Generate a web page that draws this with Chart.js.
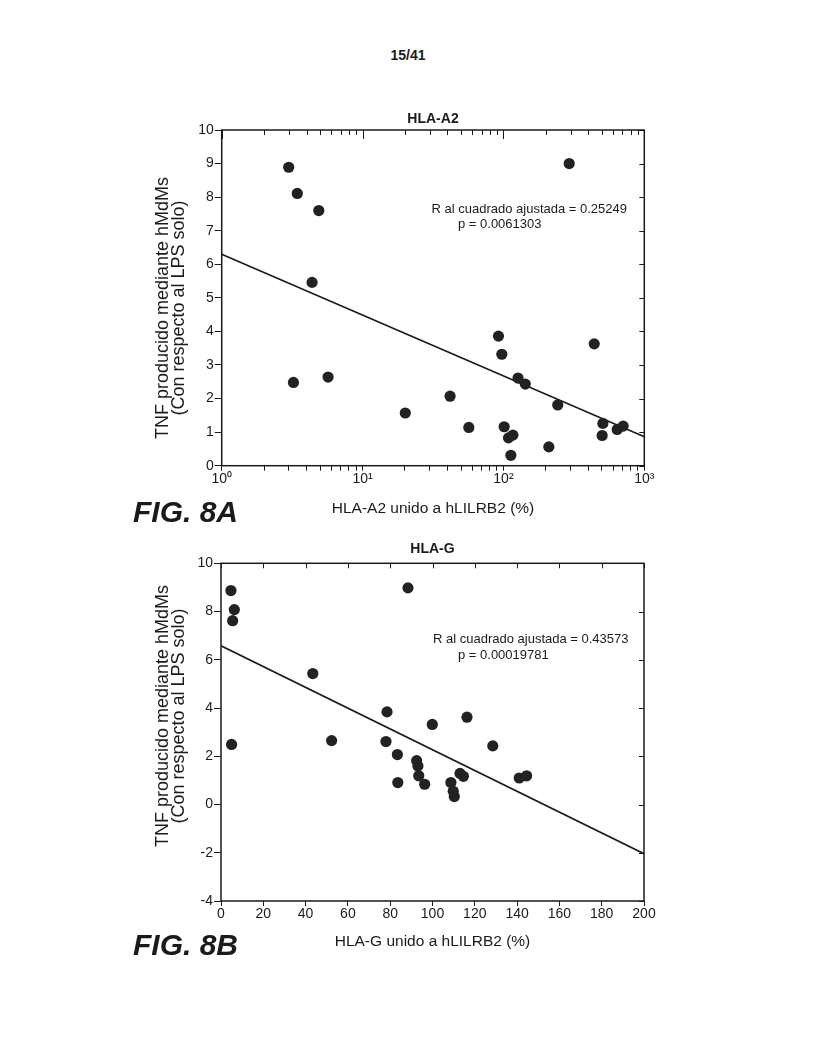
<!DOCTYPE html>
<html>
<head>
<meta charset="utf-8">
<script src="https://cdn.jsdelivr.net/npm/chart.js@4/dist/chart.umd.min.js"></script>
<style>
  html, body { margin: 0; padding: 0; background: #ffffff; }
  body { width: 817px; height: 1057px; position: relative; overflow: hidden;
         font-family: "Liberation Sans", Arial, sans-serif; color: #1a1a1a; }
  canvas { position: absolute; }
  .txt { position: absolute; white-space: nowrap; z-index: 2; }
  .ytitle { position: absolute; white-space: nowrap; text-align: center; font-size: 18px;
            line-height: 15.5px; transform: translate(-50%, -50%) rotate(-90deg); z-index: 2; }
</style>
</head>
<body>
<div class="txt" style="left:408px; top:55px; transform:translate(-50%,-50%); font-weight:bold; font-size:14px;">15/41</div>

<div class="ytitle" style="left:169.5px; top:308px;">TNF producido mediante hMdMs<br>(Con respecto al LPS solo)</div>
<div class="txt" style="left:431.5px; top:207.5px; transform:translateY(-50%); font-size:13px;">R al cuadrado ajustada = 0.25249</div>
<div class="txt" style="left:458px; top:223px; transform:translateY(-50%); font-size:13px;">p = 0.0061303</div>
<div class="txt" style="left:133px; top:512px; transform:translateY(-50%); font-size:30px; font-weight:bold; font-style:italic;">FIG. 8A</div>

<div class="ytitle" style="left:169.5px; top:716px;">TNF producido mediante hMdMs<br>(Con respecto al LPS solo)</div>
<div class="txt" style="left:433px; top:637.5px; transform:translateY(-50%); font-size:13px;">R al cuadrado ajustada = 0.43573</div>
<div class="txt" style="left:458px; top:654px; transform:translateY(-50%); font-size:13px;">p = 0.00019781</div>
<div class="txt" style="left:133px; top:945px; transform:translateY(-50%); font-size:30px; font-weight:bold; font-style:italic;">FIG. 8B</div>

<canvas id="cA" width="666" height="450" style="left:100px; top:95px;"></canvas>
<canvas id="cG" width="665" height="450" style="left:100px; top:525px;"></canvas>

<script>
// ---------------- DATA ----------------
// Fig. 8A: HLA-A2 bound to hLILRB2 (%) (log scale) vs TNF
const a2X = [2.99, 3.44, 4.89, 4.38, 293, 3.23, 5.69, 20.1, 41.8, 56.8, 92.2, 97.4, 101.2, 108.6, 116.7, 112.9, 127, 143, 243, 210, 441, 508, 502, 642, 708];
const a2Y = [8.89, 8.11, 7.60, 5.46, 9.00, 2.48, 2.64, 1.57, 2.07, 1.14, 3.86, 3.32, 1.16, 0.83, 0.91, 0.31, 2.61, 2.43, 1.81, 0.56, 3.63, 1.26, 0.90, 1.08, 1.18];
const a2FitX = [1, 1000];
const a2FitY = [6.30, 0.86];
const a2TickValues = [1,2,3,4,5,6,7,8,9,10,20,30,40,50,60,70,80,90,100,200,300,400,500,600,700,800,900,1000];
const a2MajorValues = [1, 10, 100, 1000];
const a2MajorLabels = ['10\u2070', '10\u00b9', '10\u00b2', '10\u00b3'];

// Fig. 8B: HLA-G bound to hLILRB2 (%) vs TNF
const gX = [4.7, 6.3, 5.5, 88.4, 43.4, 78.5, 99.9, 116.3, 5.0, 52.3, 78.0, 128.5, 83.4, 92.5, 93.1, 93.5, 96.3, 83.6, 108.7, 109.8, 110.3, 113.0, 114.6, 141.0, 144.5];
const gY = [8.87, 8.08, 7.62, 8.98, 5.43, 3.84, 3.32, 3.62, 2.49, 2.65, 2.61, 2.43, 2.07, 1.82, 1.60, 1.19, 0.84, 0.91, 0.91, 0.55, 0.33, 1.29, 1.17, 1.10, 1.19];
const gFitX = [0, 200];
const gFitY = [6.58, -2.04];

const titleA = 'HLA-A2';
const titleG = 'HLA-G';
const xTitleA = 'HLA-A2 unido a hLILRB2 (%)';
const xTitleG = 'HLA-G unido a hLILRB2 (%)';

// ---------------- STYLE ----------------
Chart.defaults.font.family = '"Liberation Sans", Arial, sans-serif';
Chart.defaults.color = '#1a1a1a';
const INK = '#1a1a1a';
const DOT = '#222222';

const pts = (xs, ys) => xs.map((x, i) => ({ x: x, y: ys[i] }));

// frame + inward ticks on top and right edges
const framePlugin = {
  id: 'frame',
  afterDraw(chart, args, opts) {
    const { ctx, chartArea: a } = chart;
    const xs = chart.scales.x, ys = chart.scales.y;
    ctx.save();
    ctx.strokeStyle = INK;
    ctx.lineWidth = 1.5;
    ctx.strokeRect(a.left, a.top, a.right - a.left, a.bottom - a.top);
    ctx.lineWidth = 1;
    ctx.beginPath();
    xs.ticks.forEach(t => {
      const px = Math.round(xs.getPixelForValue(t.value)) + 0.5;
      const len = (opts.majors && opts.majors.includes(t.value)) ? 9 : 5;
      ctx.moveTo(px, a.top);
      ctx.lineTo(px, a.top + len);
    });
    ys.ticks.forEach(t => {
      const py = Math.round(ys.getPixelForValue(t.value)) + 0.5;
      ctx.moveTo(a.right, py);
      ctx.lineTo(a.right - 5, py);
    });
    ctx.stroke();
    ctx.restore();
  }
};

function makeChart(id, cfg) {
  return new Chart(document.getElementById(id), {
    type: 'scatter',
    data: {
      datasets: [
        { data: cfg.points, backgroundColor: DOT, borderColor: DOT, pointRadius: 5.6, pointHoverRadius: 5.6, borderWidth: 0, order: 1 },
        { data: cfg.fit, showLine: true, borderColor: INK, borderWidth: 1.6, pointRadius: 0, fill: false, order: 2 }
      ]
    },
    plugins: [framePlugin],
    options: {
      responsive: false,
      animation: false,
      devicePixelRatio: 1,
      layout: { padding: 0 },
      plugins: {
        legend: { display: false },
        tooltip: { enabled: false },
        title: { display: true, text: cfg.title, color: INK,
                 font: { size: 14, weight: 'bold' }, padding: cfg.titlePad },
        frame: { majors: cfg.majors || [] }
      },
      scales: {
        x: Object.assign({
          position: 'bottom',
          border: { display: false },
          grid: { drawOnChartArea: false, drawTicks: true, tickLength: 5, color: INK, lineWidth: 1 },
          ticks: { padding: 0, color: INK, font: { size: 14 }, maxRotation: 0, autoSkip: false },
          title: { display: true, text: cfg.xTitle, color: INK, font: { size: 15.5 }, padding: { top: 0, bottom: cfg.xTitlePad } },
          afterFit: s => { s.height = cfg.xAxisH; }
        }, cfg.xScale),
        y: Object.assign({
          position: 'left',
          border: { display: false },
          grid: { drawOnChartArea: false, drawTicks: true, tickLength: 7, color: INK, lineWidth: 1 },
          ticks: { padding: 1, color: INK, font: { size: 14 } },
          afterFit: s => { s.width = cfg.yAxisW; }
        }, cfg.yScale),
        // empty spacer on the right so the chart title centres over the plot
        y2: {
          type: 'linear', position: 'right', display: true,
          min: cfg.yScale.min, max: cfg.yScale.max,
          border: { display: false },
          grid: { display: false },
          ticks: { display: false },
          afterFit: s => { s.width = cfg.yAxisW; }
        }
      }
    }
  });
}

// Fig 8A
makeChart('cA', {
  points: pts(a2X, a2Y),
  fit: pts(a2FitX, a2FitY),
  title: titleA,
  titlePad: { top: 15.6, bottom: 2.6 },
  xTitle: xTitleA,
  xTitlePad: 26.7,
  xAxisH: 79.3,
  yAxisW: 121.7,
  majors: a2MajorValues,
  xScale: {
    type: 'logarithmic', min: 1, max: 1000,
    afterBuildTicks: s => { s.ticks = a2TickValues.map(v => ({ value: v, major: a2MajorValues.includes(v) })); },
    ticks: { padding: 0, color: INK, font: { size: 14 }, maxRotation: 0, autoSkip: false,
      callback: v => { const i = a2MajorValues.indexOf(v); return i >= 0 ? a2MajorLabels[i] : ''; } }
  },
  yScale: { type: 'linear', min: 0, max: 10, ticks: { stepSize: 1, padding: 1, color: INK, font: { size: 14 } } }
});

// Fig 8B
makeChart('cG', {
  points: pts(gX, gY),
  fit: pts(gFitX, gFitY),
  title: titleG,
  titlePad: { top: 15.6, bottom: 5.9 },
  xTitle: xTitleG,
  xTitlePad: 23.7,
  xAxisH: 74,
  yAxisW: 121,
  xScale: { type: 'linear', min: 0, max: 200,
    ticks: { stepSize: 20, padding: 0, color: INK, font: { size: 14 }, maxRotation: 0, autoSkip: false } },
  yScale: { type: 'linear', min: -4, max: 10, ticks: { stepSize: 2, padding: 1, color: INK, font: { size: 14 } } }
});
</script>
</body>
</html>
